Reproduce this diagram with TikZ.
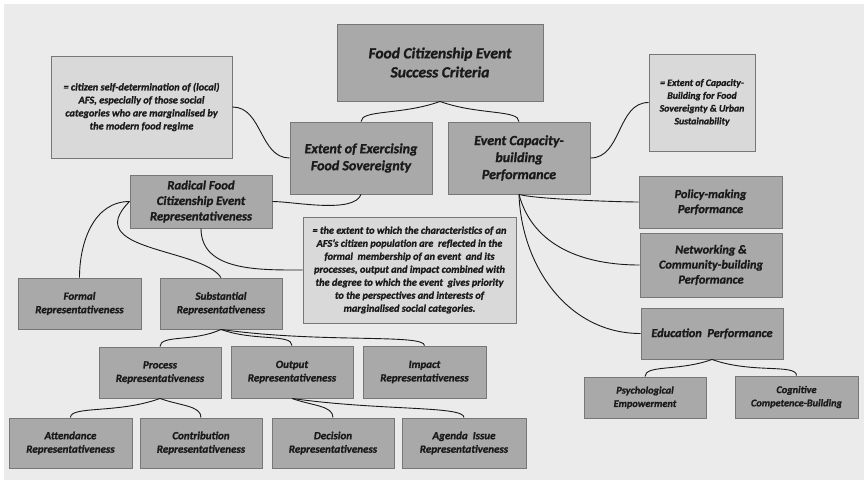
\documentclass[tikz,border=0pt]{standalone}
\usepackage{fontspec}
\setmainfont{Carlito}[Extension=.ttf, UprightFont=*-Regular, BoldFont=*-Bold,
  ItalicFont=*-Italic, BoldItalicFont=*-BoldItalic, BoldItalicFeatures={FakeBold=1.2}]
\definecolor{bggray}{HTML}{EBEBEB}
\definecolor{boxgray}{HTML}{A9A9A9}
\definecolor{notegray}{HTML}{D9D9D9}
\definecolor{edgegray}{HTML}{777777}
\definecolor{inkgray}{HTML}{1A1A1A}
\tikzset{
  box/.style={draw=edgegray, fill=boxgray, line width=0.9pt, align=center, inner sep=0pt,
    text=inkgray, font=\bfseries\itshape\fontsize{11}{13.5}\selectfont},
  notebox/.style={box, fill=notegray, font=\bfseries\itshape\fontsize{10.3}{13}\selectfont},
  link/.style={draw=inkgray, line width=0.9pt},
  brace/.style 2 args={link, out=#1, in=90, out distance=#2, in distance=12}
}
\begin{document}
\begin{tikzpicture}[x=1pt,y=1pt]
\fill[white] (0,0) rectangle (867,-484);
\fill[bggray] (4,-4) rectangle (864,-480);
\useasboundingbox (0,0) rectangle (867,-484);

% top levels
\node[box, minimum width=206, minimum height=77, font=\bfseries\itshape\fontsize{15.5}{19}\selectfont]
  (title) at (440,-62.5) {Food Citizenship Event\\Success Criteria};
\node[box, minimum width=142, minimum height=72, font=\bfseries\itshape\fontsize{14}{17}\selectfont]
  (sovereignty) at (361,-158) {Extent of Exercising\\Food Sovereignty};
\node[box, minimum width=142, minimum height=72, font=\bfseries\itshape\fontsize{14}{17}\selectfont]
  (capacity) at (519,-158) {Event Capacity-\\building\\Performance};
\node[notebox, minimum width=181, minimum height=102] (sovnote) at (141.5,-107)
  {= citizen self-determination of (local)\\AFS, especially of those social\\categories who are marginalised by\\the modern food regime};
\node[notebox, minimum width=106, minimum height=97, font=\bfseries\itshape\fontsize{9.8}{12.8}\selectfont]
  (capnote) at (702,-102.5) {= Extent of Capacity-\\Building for Food\\Sovereignty \& Urban\\Sustainability};

% representativeness branch
\node[box, minimum width=142, minimum height=53, font=\bfseries\itshape\fontsize{12.7}{15.5}\selectfont]
  (radical) at (201,-201.5) {Radical Food\\Citizenship Event\\Representativeness};
\node[notebox, minimum width=213, minimum height=106] (repnote) at (409.5,-270)
  {= the extent to which the characteristics of an\\AFS's citizen population are \ reflected in the\\formal \ membership of an event \ and its\\processes, output and impact combined with\\the degree to which the event \ gives priority\\to the perspectives and interests of\\marginalised social categories.};
\node[box, minimum width=123, minimum height=51] (formal) at (79.5,-303.5) {Formal\\Representativeness};
\node[box, minimum width=122, minimum height=51] (substantial) at (221,-303.5) {Substantial\\Representativeness};
\node[box, minimum width=122, minimum height=51] (process) at (160,-372.5) {Process\\Representativeness};
\node[box, minimum width=122, minimum height=52] (output) at (292,-372) {Output\\Representativeness};
\node[box, minimum width=123, minimum height=52] (impact) at (424.5,-372) {Impact\\Representativeness};
\node[box, minimum width=123, minimum height=50] (attendance) at (70.5,-443) {Attendance\\Representativeness};
\node[box, minimum width=122, minimum height=50] (contribution) at (201,-443) {Contribution\\Representativeness};
\node[box, minimum width=122, minimum height=50] (decision) at (333,-443) {Decision\\Representativeness};
\node[box, minimum width=124, minimum height=50] (agenda) at (464,-443) {Agenda \ Issue\\Representativeness};

% performance branch
\node[box, minimum width=143, minimum height=52, font=\bfseries\itshape\fontsize{12.3}{15}\selectfont]
  (policy) at (710.5,-202) {Policy-making\\Performance};
\node[box, minimum width=142, minimum height=64, font=\bfseries\itshape\fontsize{12.3}{15}\selectfont]
  (network) at (711,-265) {Networking \&\\Community-building\\Performance};
\node[box, minimum width=142, minimum height=51, font=\bfseries\itshape\fontsize{12.3}{15}\selectfont]
  (education) at (712,-333.5) {Education \ Performance};
\node[box, minimum width=122, minimum height=41, font=\bfseries\itshape\fontsize{10.3}{13.3}\selectfont]
  (psych) at (645,-397.5) {Psychological\\Empowerment};
\node[box, minimum width=123, minimum height=42, font=\bfseries\itshape\fontsize{10.3}{13.3}\selectfont]
  (cognitive) at (796.5,-397) {Cognitive\\Competence-Building};

% connectors
\draw[brace={200}{40}] (title.south) to (sovereignty.north);
\draw[brace={-20}{40}] (title.south) to (capacity.north);
\draw[link] (sovnote.east) to[out=0,in=180] (sovereignty.west);
\draw[link] (capacity.east) to[out=0,in=180] (capnote.west);
\draw[link] (radical.east) to[out=0,in=-110,looseness=0.6] (sovereignty.south);
\draw[link] (capacity.south) to[out=-15,in=180,looseness=0.4] (policy.west);
\draw[link] (capacity.south) to[out=-75,in=180] (network.west);
\draw[link] (capacity.south) to[out=-88,in=180] (education.west);
\draw[brace={200}{35}] (education.south) to (psych.north);
\draw[brace={-20}{42}] (education.south) to (cognitive.north);
\draw[link] (radical.west) to[out=180,in=90] (formal.north);
\draw[link] (radical.west) .. controls +(-50,-50) and +(-20,30) .. (substantial.north);
\draw[link] (radical.south) to[out=-90,in=180] (repnote.west);
\draw[brace={205}{30}] (substantial.south) to (process.north);
\draw[brace={-20}{35}] (substantial.south) to (output.north);
\draw[brace={-8}{100}] (substantial.south) to (impact.north);
\draw[brace={200}{45}] (process.south) to (attendance.north);
\draw[brace={-20}{22}] (process.south) to (contribution.north);
\draw[brace={-20}{22}] (output.south) to (decision.north);
\draw[brace={-8}{90}] (output.south) to (agenda.north);
\end{tikzpicture}
\end{document}
